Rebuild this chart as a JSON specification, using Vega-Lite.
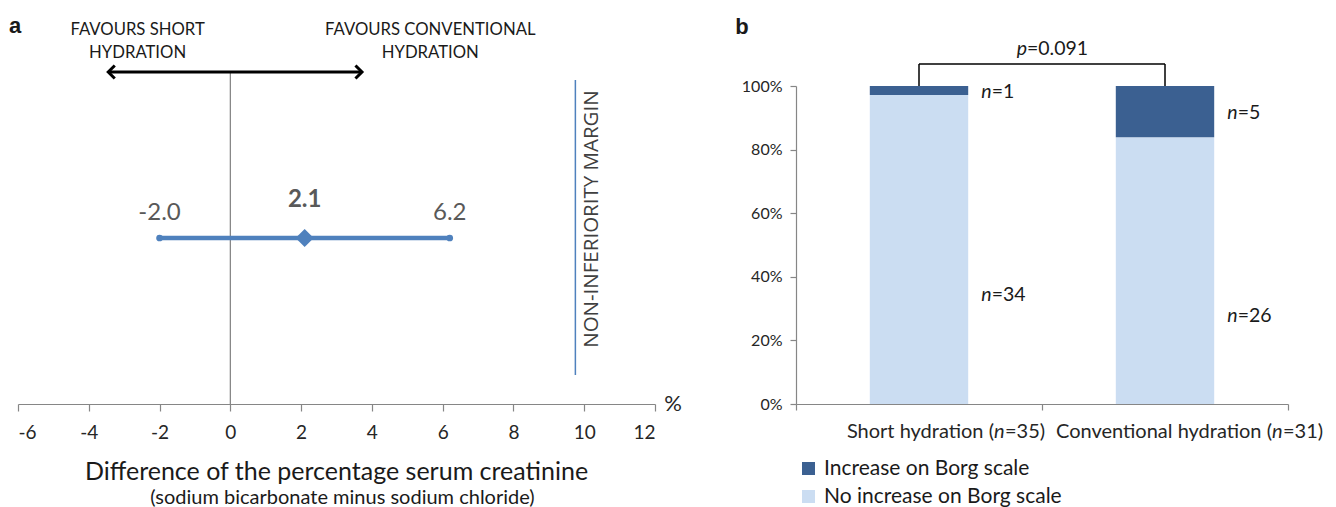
{
  "$schema": "https://vega.github.io/schema/vega-lite/v6.json",
  "background": "white",
  "padding": {"left": 8, "top": 14, "right": 5, "bottom": 5},
  "spacing": 141,
  "bounds": "flush",
  "config": {
    "view": {"stroke": null},
    "font": "Lato",
    "locale": {"number": {"decimal": ".", "thousands": ",", "grouping": [3], "currency": ["$", ""], "minus": "-"}}
  },
  "hconcat": [
    {
      "width": 637,
      "height": 332,
      "data": {"values": [{"est": 2.1, "lo": -2.0, "hi": 6.2}]},
      "layer": [
        {
          "mark": {"type": "rule", "color": "#7f7f7f", "strokeWidth": 1.2},
          "encoding": {"x": {"datum": 0, "type": "quantitative"}}
        },
        {
          "mark": {"type": "rule", "color": "#000000", "strokeWidth": 3},
          "encoding": {
            "x": {"datum": -3.45, "type": "quantitative"},
            "x2": {"datum": 3.72},
            "y": {"datum": 1, "type": "quantitative", "axis": null}
          }
        },
        {
          "mark": {"type": "point", "shape": "M1,-1L0,0L1,1", "filled": false, "stroke": "#000000", "strokeWidth": 3, "size": 170, "opacity": 1},
          "encoding": {
            "x": {"datum": -3.45, "type": "quantitative"},
            "y": {"datum": 1, "type": "quantitative", "axis": null}
          }
        },
        {
          "mark": {"type": "point", "shape": "M-1,-1L0,0L-1,1", "filled": false, "stroke": "#000000", "strokeWidth": 3, "size": 170, "opacity": 1},
          "encoding": {
            "x": {"datum": 3.72, "type": "quantitative"},
            "y": {"datum": 1, "type": "quantitative", "axis": null}
          }
        },
        {
          "mark": {"type": "rule", "color": "#4F81BD", "strokeWidth": 4.5},
          "encoding": {
            "x": {
              "field": "lo",
              "type": "quantitative",
              "scale": {"domain": [-6, 12], "nice": false, "zero": false},
              "axis": {
                "title": null,
                "values": [-6, -4, -2, 0, 2, 4, 6, 8, 10, 12],
                "labelExpr": "replace(datum.label, '\u2212', '-')",
                "grid": false,
                "tickSize": 7,
                "labelPadding": 12,
                "labelFontSize": 19,
                "labelFont": "Lato",
                "labelColor": "#262626",
                "domainColor": "#868686",
                "tickColor": "#868686",
                "domainWidth": 1.2,
                "tickWidth": 1.2
              }
            },
            "x2": {"field": "hi"},
            "y": {"datum": 0.5, "type": "quantitative", "scale": {"domain": [0, 1]}, "axis": null}
          }
        },
        {
          "transform": [{"fold": ["lo", "hi"], "as": ["k", "v"]}],
          "mark": {"type": "point", "filled": true, "color": "#4F81BD", "size": 45, "opacity": 1},
          "encoding": {
            "x": {"field": "v", "type": "quantitative"},
            "y": {"datum": 0.5, "type": "quantitative", "axis": null}
          }
        },
        {
          "mark": {"type": "point", "shape": "diamond", "filled": true, "color": "#4F81BD", "size": 330, "opacity": 1},
          "encoding": {
            "x": {"field": "est", "type": "quantitative"},
            "y": {"datum": 0.5, "type": "quantitative", "axis": null}
          }
        },
        {
          "transform": [
            {"fold": ["lo", "hi"], "as": ["k", "v"]},
            {"calculate": "replace(format(datum.v, '.1f'), '\u2212', '-')", "as": "vt"}
          ],
          "mark": {"type": "text", "fontSize": 24, "color": "#595959", "font": "Lato", "baseline": "middle", "dy": -25},
          "encoding": {
            "x": {"field": "v", "type": "quantitative"},
            "y": {"datum": 0.5, "type": "quantitative", "axis": null},
            "text": {"field": "vt", "type": "nominal"}
          }
        },
        {
          "mark": {"type": "text", "fontSize": 24, "fontWeight": "bold", "color": "#595959", "font": "Lato", "baseline": "middle", "dy": -38},
          "encoding": {
            "x": {"field": "est", "type": "quantitative"},
            "y": {"datum": 0.5, "type": "quantitative", "axis": null},
            "text": {"field": "est", "type": "quantitative", "format": ".1f"}
          }
        },
        {
          "mark": {"type": "rule", "color": "#4F81BD", "strokeWidth": 1.5},
          "encoding": {
            "x": {"datum": 9.75, "type": "quantitative"},
            "y": {"datum": 0.976, "type": "quantitative", "axis": null},
            "y2": {"datum": 0.087}
          }
        },
        {
          "mark": {"type": "text", "text": "NON-INFERIORITY MARGIN", "angle": 270, "align": "center", "baseline": "top", "dy": 7, "fontSize": 20.5, "font": "Open Sans", "color": "#404040"},
          "encoding": {
            "x": {"datum": 9.75, "type": "quantitative"},
            "y": {"datum": 0.557, "type": "quantitative", "axis": null}
          }
        },
        {
          "mark": {"type": "text", "text": "%", "align": "center", "baseline": "middle", "dx": 18, "fontSize": 22, "font": "Lato", "color": "#262626"},
          "encoding": {
            "x": {"datum": 12, "type": "quantitative"},
            "y": {"datum": 0, "type": "quantitative", "axis": null}
          }
        },
        {
          "mark": {"type": "text", "text": ["FAVOURS SHORT", "HYDRATION"], "align": "center", "baseline": "bottom", "dy": -33, "lineHeight": 23, "fontSize": 16.7, "font": "Lato", "color": "#1a1a1a"},
          "encoding": {
            "x": {"datum": -2.62, "type": "quantitative"},
            "y": {"datum": 1, "type": "quantitative", "axis": null}
          }
        },
        {
          "mark": {"type": "text", "text": ["FAVOURS CONVENTIONAL", "HYDRATION"], "align": "center", "baseline": "bottom", "dy": -33, "lineHeight": 23, "fontSize": 16.7, "font": "Lato", "color": "#1a1a1a"},
          "encoding": {
            "x": {"datum": 5.65, "type": "quantitative"},
            "y": {"datum": 1, "type": "quantitative", "axis": null}
          }
        },
        {
          "mark": {"type": "text", "text": "Difference of the percentage serum creatinine", "align": "center", "baseline": "middle", "fontSize": 25, "font": "Lato", "color": "#1a1a1a"},
          "encoding": {"y": {"datum": -0.205, "type": "quantitative", "axis": null}}
        },
        {
          "mark": {"type": "text", "text": "(sodium bicarbonate  minus sodium chloride)", "align": "center", "baseline": "middle", "dx": 6, "fontSize": 20, "font": "Lato", "color": "#1a1a1a"},
          "encoding": {"y": {"datum": -0.283, "type": "quantitative", "axis": null}}
        },
        {
          "mark": {"type": "text", "text": "a", "align": "center", "baseline": "middle", "dx": -3, "fontSize": 22, "fontWeight": "bold", "font": "Liberation Sans", "color": "#1a1a1a"},
          "encoding": {
            "x": {"datum": -6, "type": "quantitative"},
            "y": {"datum": 1.14, "type": "quantitative", "axis": null}
          }
        }
      ]
    },
    {
      "width": 492,
      "height": 332,
      "data": {
        "values": [
          {"group": "Short hydration", "cat": "No increase on Borg scale", "n": 34, "pct": 0.9714, "ord": 1},
          {"group": "Short hydration", "cat": "Increase on Borg scale", "n": 1, "pct": 0.0286, "ord": 2},
          {"group": "Conventional hydration", "cat": "No increase on Borg scale", "n": 26, "pct": 0.8387, "ord": 1},
          {"group": "Conventional hydration", "cat": "Increase on Borg scale", "n": 5, "pct": 0.1613, "ord": 2}
        ]
      },
      "transform": [
        {"stack": "pct", "groupby": ["group"], "sort": [{"field": "ord"}], "as": ["p0", "p1"]},
        {"calculate": "(datum.p0 + datum.p1) / 2", "as": "pmid"},
        {"calculate": "'=' + datum.n", "as": "rest"},
        {"joinaggregate": [{"op": "sum", "field": "n", "as": "total"}], "groupby": ["group"]}
      ],
      "layer": [
        {
          "mark": {"type": "bar", "width": {"band": 0.4}},
          "encoding": {
            "x": {
              "field": "group",
              "type": "nominal",
              "sort": null,
              "scale": {"paddingInner": 0, "paddingOuter": 0},
              "axis": {
                "title": null,
                "labels": false,
                "tickBand": "extent",
                "tickSize": 6,
                "domainColor": "#868686",
                "tickColor": "#868686",
                "domainWidth": 1.2,
                "tickWidth": 1.2
              }
            },
            "y": {
              "field": "p0",
              "type": "quantitative",
              "scale": {"domain": [0, 1], "range": [332, 14]},
              "axis": {
                "title": null,
                "values": [0, 0.2, 0.4, 0.6, 0.8, 1],
                "format": ".0%",
                "grid": false,
                "tickSize": 6,
                "labelPadding": 8,
                "labelFontSize": 16,
                "labelFont": "Lato",
                "labelColor": "#262626",
                "domainColor": "#868686",
                "tickColor": "#868686",
                "domainWidth": 1.2,
                "tickWidth": 1.2
              }
            },
            "y2": {"field": "p1"},
            "color": {
              "field": "cat",
              "type": "nominal",
              "scale": {"domain": ["Increase on Borg scale", "No increase on Borg scale"], "range": ["#3B6091", "#CBDDF2"]},
              "legend": {
                "title": null,
                "orient": "none",
                "legendX": 780,
                "legendY": 386,
                "direction": "vertical",
                "symbolType": "square",
                "symbolSize": 170,
                "symbolStrokeWidth": 0,
                "labelFontSize": 21,
                "labelLimit": 500,
                "labelFont": "Lato",
                "labelColor": "#1a1a1a",
                "labelOffset": 5,
                "rowPadding": 6
              }
            }
          }
        },
        {
          "transform": [{"filter": "datum.ord == 2"}],
          "mark": {"type": "rule", "color": "#000000", "strokeWidth": 1.5},
          "encoding": {
            "x": {"field": "group", "type": "nominal", "sort": null},
            "y": {"datum": 1, "type": "quantitative"},
            "y2": {"datum": 1.069}
          }
        },
        {
          "transform": [{"filter": "datum.ord == 2 && datum.n == 1"}],
          "mark": {"type": "rule", "color": "#000000", "strokeWidth": 1.5},
          "encoding": {
            "x": {"datum": "Short hydration", "type": "nominal"},
            "x2": {"datum": "Conventional hydration"},
            "y": {"datum": 1.069, "type": "quantitative"}
          }
        },
        {
          "transform": [{"filter": "datum.ord == 2 && datum.n == 1"}],
          "mark": {"type": "text", "text": "p", "fontStyle": "italic", "align": "right", "baseline": "middle", "dx": -15, "fontSize": 19.5, "font": "Lato", "color": "#1a1a1a"},
          "encoding": {"y": {"datum": 1.116, "type": "quantitative"}}
        },
        {
          "transform": [{"filter": "datum.ord == 2 && datum.n == 1"}],
          "mark": {"type": "text", "text": "=0.091", "align": "left", "baseline": "middle", "dx": -15, "fontSize": 19.5, "font": "Lato", "color": "#1a1a1a"},
          "encoding": {"y": {"datum": 1.116, "type": "quantitative"}}
        },
        {
          "transform": [{"filter": "datum.ord == 2"}],
          "mark": {"type": "text", "text": "n", "fontStyle": "italic", "align": "left", "baseline": "middle", "dx": 13, "dy": 1, "fontSize": 19.5, "font": "Lato", "color": "#1a1a1a"},
          "encoding": {
            "x": {"field": "group", "type": "nominal", "sort": null, "bandPosition": 0.7},
            "y": {"field": "pmid", "type": "quantitative"}
          }
        },
        {
          "transform": [{"filter": "datum.ord == 2"}],
          "mark": {"type": "text", "align": "left", "baseline": "middle", "dx": 23.5, "dy": 1, "fontSize": 19.5, "font": "Lato", "color": "#1a1a1a"},
          "encoding": {
            "x": {"field": "group", "type": "nominal", "sort": null, "bandPosition": 0.7},
            "y": {"field": "pmid", "type": "quantitative"},
            "text": {"field": "rest", "type": "nominal"}
          }
        },
        {
          "transform": [{"filter": "datum.ord == 1"}],
          "mark": {"type": "text", "text": "n", "fontStyle": "italic", "align": "left", "baseline": "middle", "dx": 13, "dy": 45, "fontSize": 19.5, "font": "Lato", "color": "#1a1a1a"},
          "encoding": {
            "x": {"field": "group", "type": "nominal", "sort": null, "bandPosition": 0.7},
            "y": {"field": "pmid", "type": "quantitative"}
          }
        },
        {
          "transform": [{"filter": "datum.ord == 1"}],
          "mark": {"type": "text", "align": "left", "baseline": "middle", "dx": 23.5, "dy": 45, "fontSize": 19.5, "font": "Lato", "color": "#1a1a1a"},
          "encoding": {
            "x": {"field": "group", "type": "nominal", "sort": null, "bandPosition": 0.7},
            "y": {"field": "pmid", "type": "quantitative"},
            "text": {"field": "rest", "type": "nominal"}
          }
        },
        {
          "transform": [{"filter": "datum.ord == 2 && datum.n == 1"}, {"calculate": "datum.group + ' ('", "as": "lab"}],
          "mark": {"type": "text", "align": "right", "baseline": "middle", "dx": 75, "fontSize": 20, "font": "Lato", "color": "#262626"},
          "encoding": {
            "x": {"field": "group", "type": "nominal", "sort": null},
            "y": {"datum": -0.088, "type": "quantitative"},
            "text": {"field": "lab", "type": "nominal"}
          }
        },
        {
          "transform": [{"filter": "datum.ord == 2 && datum.n == 1"}],
          "mark": {"type": "text", "text": "n", "fontStyle": "italic", "align": "left", "baseline": "middle", "dx": 75, "fontSize": 20, "font": "Lato", "color": "#262626"},
          "encoding": {
            "x": {"field": "group", "type": "nominal", "sort": null},
            "y": {"datum": -0.088, "type": "quantitative"}
          }
        },
        {
          "transform": [{"filter": "datum.ord == 2 && datum.n == 1"}, {"calculate": "'=' + datum.total + ')'", "as": "lab"}],
          "mark": {"type": "text", "align": "left", "baseline": "middle", "dx": 86, "fontSize": 20, "font": "Lato", "color": "#262626"},
          "encoding": {
            "x": {"field": "group", "type": "nominal", "sort": null},
            "y": {"datum": -0.088, "type": "quantitative"},
            "text": {"field": "lab", "type": "nominal"}
          }
        },
        {
          "transform": [{"filter": "datum.ord == 2 && datum.n == 5"}, {"calculate": "datum.group + ' ('", "as": "lab"}],
          "mark": {"type": "text", "align": "right", "baseline": "middle", "dx": 107, "fontSize": 20, "font": "Lato", "color": "#262626"},
          "encoding": {
            "x": {"field": "group", "type": "nominal", "sort": null},
            "y": {"datum": -0.088, "type": "quantitative"},
            "text": {"field": "lab", "type": "nominal"}
          }
        },
        {
          "transform": [{"filter": "datum.ord == 2 && datum.n == 5"}],
          "mark": {"type": "text", "text": "n", "fontStyle": "italic", "align": "left", "baseline": "middle", "dx": 107, "fontSize": 20, "font": "Lato", "color": "#262626"},
          "encoding": {
            "x": {"field": "group", "type": "nominal", "sort": null},
            "y": {"datum": -0.088, "type": "quantitative"}
          }
        },
        {
          "transform": [{"filter": "datum.ord == 2 && datum.n == 5"}, {"calculate": "'=' + datum.total + ')'", "as": "lab"}],
          "mark": {"type": "text", "align": "left", "baseline": "middle", "dx": 118, "fontSize": 20, "font": "Lato", "color": "#262626"},
          "encoding": {
            "x": {"field": "group", "type": "nominal", "sort": null},
            "y": {"datum": -0.088, "type": "quantitative"},
            "text": {"field": "lab", "type": "nominal"}
          }
        },
        {
          "transform": [{"filter": "datum.ord == 2 && datum.n == 1"}],
          "mark": {"type": "text", "text": "b", "align": "center", "baseline": "middle", "dx": -300, "fontSize": 22, "fontWeight": "bold", "font": "Liberation Sans", "color": "#1a1a1a"},
          "encoding": {"y": {"datum": 1.186, "type": "quantitative"}}
        }
      ]
    }
  ]
}
